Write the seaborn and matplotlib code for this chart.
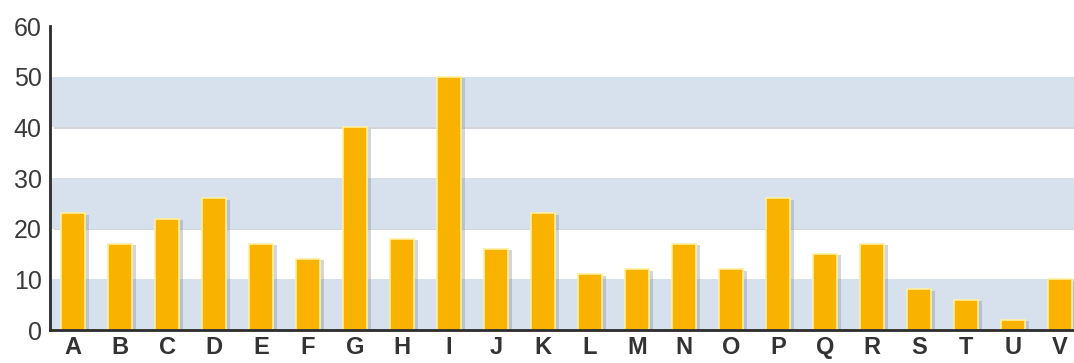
import matplotlib
matplotlib.use("Agg")
import matplotlib.pyplot as plt
import matplotlib.patheffects as pe
import seaborn as sns
import pandas as pd

categories = list("ABCDEFGHIJKLMNOPQRSTUV")
values = [23, 17, 22, 26, 17, 14, 40, 18, 50, 16, 23, 11, 12, 17, 12, 26, 15, 17, 8, 6, 2, 10]
y_ticks = [0, 10, 20, 30, 40, 50, 60]
band_ranges = [(0, 10), (20, 30), (40, 50)]

df = pd.DataFrame({"category": categories, "value": values})

sns.set_theme(style="white")
plt.rcParams["font.family"] = ["Liberation Sans", "DejaVu Sans"]

fig = plt.figure(figsize=(10.74, 3.63), dpi=100)
ax = fig.add_axes([50 / 1074, 33 / 363, 1 - 50 / 1074, 304 / 363])
ax.grid(False)

# alternating light-blue horizontal bands
for lo, hi in band_ranges:
    ax.axhspan(lo, hi, facecolor="#d6e1ed", edgecolor="none", zorder=0, lw=0)

sns.barplot(data=df, x="category", y="value", color="#f9b200", saturation=1,
            width=0.51, edgecolor="#fff0a0", linewidth=1.2, ax=ax, zorder=3)

# soft drop shadow on the right side of each bar
for bar in ax.patches:
    bar.set_path_effects([pe.SimplePatchShadow(offset=(3, -1), shadow_rgbFace="#7f8a96", alpha=0.35),
                          pe.Normal()])

ax.set_xlim(-0.49, 21.3)
ax.set_ylim(0, 60)
ax.set_yticks(y_ticks)
ax.set_yticklabels([str(t) for t in y_ticks], fontsize=18, color="#3a3a3a")
ax.set_xticks(range(len(categories)))
ax.set_xticklabels(categories, fontsize=17, color="#333333", fontweight="bold")
ax.tick_params(axis="y", length=0, pad=6)
ax.tick_params(axis="x", length=0, pad=4)
ax.set_xlabel("")
ax.set_ylabel("")

for side in ("top", "right"):
    ax.spines[side].set_visible(False)
for side in ("left", "bottom"):
    ax.spines[side].set_color("#2b2b2b")
    ax.spines[side].set_linewidth(2)
    ax.spines[side].set_zorder(5)

fig.savefig("out.png", dpi=100)
